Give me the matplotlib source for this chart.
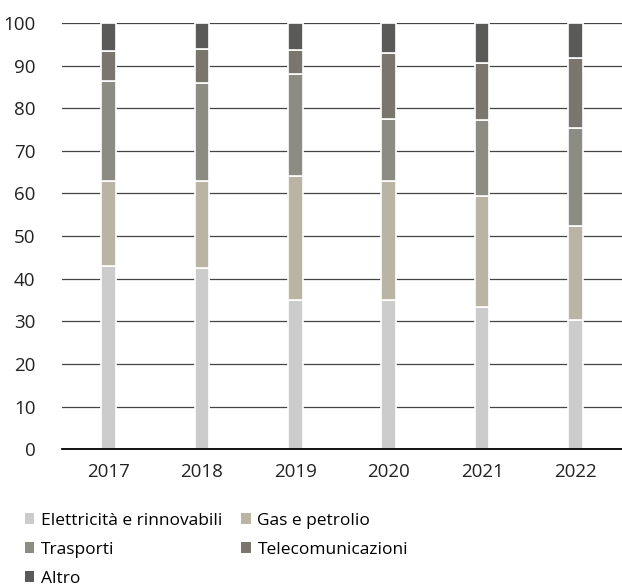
import matplotlib.pyplot as plt
from matplotlib.patches import Patch

plt.rcParams["font.family"] = ["Open Sans", "DejaVu Sans"]

years = ["2017", "2018", "2019", "2020", "2021", "2022"]
elettricita = [43.0, 42.5, 35.0, 35.0, 33.3, 30.3]
gas = [20.0, 20.5, 29.0, 28.0, 26.2, 22.0]
trasporti = [23.4, 22.8, 24.0, 14.5, 17.7, 23.1]
telecom = [6.9, 8.0, 5.7, 15.5, 13.5, 16.3]
altro = [100 - a - b - c - d for a, b, c, d in zip(elettricita, gas, trasporti, telecom)]

SERIES = [
    ("Elettricità e rinnovabili", elettricita, "#cccccc"),
    ("Gas e petrolio", gas, "#bab4a4"),
    ("Trasporti", trasporti, "#8c8c82"),
    ("Telecomunicazioni", telecom, "#7a766e"),
    ("Altro", altro, "#5a5b58"),
]

fig = plt.figure(figsize=(6.22, 5.88), dpi=100)
ax = fig.add_axes([0.0997, 0.236, 0.9003, 0.725])

x = range(len(years))
bottom = [0.0] * len(years)
handles = []
for name, values, color in SERIES:
    ax.bar(x, values, bottom=bottom, width=0.16, color=color,
           edgecolor="white", linewidth=1.2, zorder=3)
    bottom = [b + v for b, v in zip(bottom, values)]
    handles.append(Patch(facecolor=color, label=name))

ax.set_xlim(-0.5, len(years) - 0.5)
ax.set_ylim(0, 100)
ax.set_yticks(range(0, 101, 10))
ax.set_xticks(list(x))
ax.set_xticklabels(years)
ax.yaxis.grid(True, color="#444444", linewidth=0.9, zorder=0)
ax.set_axisbelow(True)
for side in ["top", "right", "left"]:
    ax.spines[side].set_visible(False)
ax.spines["bottom"].set_color("black")
ax.spines["bottom"].set_linewidth(1.3)
ax.spines["bottom"].set_zorder(4)
ax.tick_params(axis="both", length=0, labelsize=13.5, colors="#222222")
ax.tick_params(axis="y", pad=19)
ax.tick_params(axis="x", pad=10)

order = [0, 2, 4, 1, 3]
fig.legend([handles[i] for i in order], [handles[i].get_label() for i in order],
           ncol=2, loc="upper left", bbox_to_anchor=(0.04, 0.128),
           frameon=False, fontsize=12.5, handlelength=0.55, handleheight=0.55,
           handletextpad=0.4, columnspacing=1.05, labelspacing=0.75,
           borderaxespad=0, borderpad=0)

fig.savefig("out.png", dpi=100)
